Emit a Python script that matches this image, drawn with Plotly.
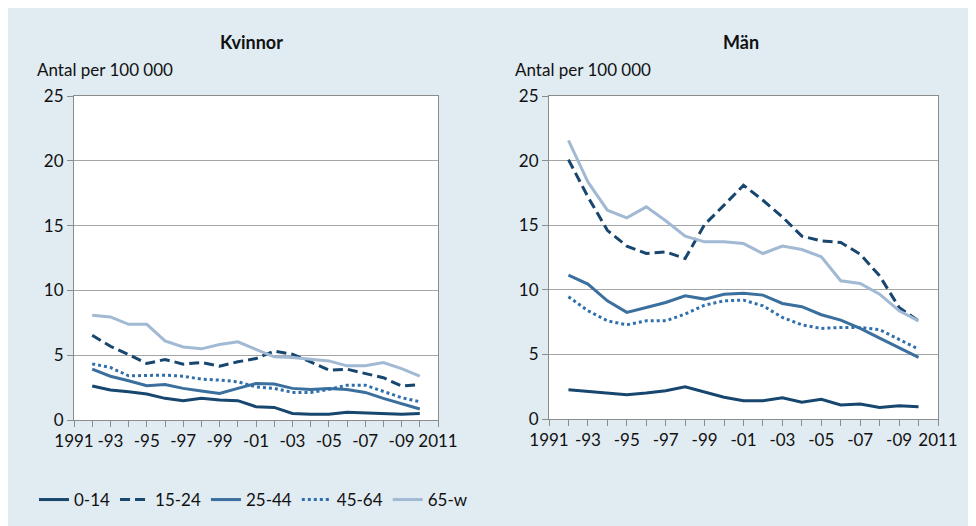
import plotly.graph_objects as go

years = list(range(1992, 2011))
series_names = ["0-14", "15-24", "25-44", "45-64", "65-w"]

kvinnor_0_14 = [2.62, 2.31, 2.18, 2.0, 1.67, 1.49, 1.67, 1.54, 1.49, 1.03, 0.97, 0.51, 0.44, 0.44, 0.59, 0.54, 0.46, 0.44, 0.51]
kvinnor_15_24 = [6.54, 5.69, 5.05, 4.36, 4.67, 4.31, 4.44, 4.15, 4.49, 4.74, 5.31, 5.08, 4.49, 3.85, 3.92, 3.59, 3.26, 2.62, 2.74]
kvinnor_25_44 = [3.92, 3.38, 3.03, 2.64, 2.74, 2.44, 2.23, 2.05, 2.44, 2.82, 2.77, 2.44, 2.36, 2.44, 2.36, 2.13, 1.67, 1.23, 0.85]
kvinnor_45_64 = [4.33, 4.05, 3.41, 3.46, 3.46, 3.38, 3.15, 3.08, 2.95, 2.56, 2.44, 2.13, 2.13, 2.36, 2.69, 2.69, 2.18, 1.72, 1.41]
kvinnor_65_w = [8.08, 7.95, 7.38, 7.38, 6.10, 5.64, 5.49, 5.82, 6.03, 5.44, 4.87, 4.82, 4.67, 4.56, 4.18, 4.18, 4.44, 3.97, 3.38]

man_0_14 = [2.27, 2.14, 1.98, 1.88, 2.01, 2.19, 2.50, 2.06, 1.68, 1.42, 1.42, 1.65, 1.29, 1.52, 1.08, 1.16, 0.90, 1.03, 0.95]
man_15_24 = [20.08, 17.2, 14.6, 13.38, 12.81, 12.94, 12.42, 15.05, 16.55, 18.09, 16.93, 15.64, 14.15, 13.79, 13.66, 12.76, 11.08, 8.63, 7.6]
man_25_44 = [11.13, 10.44, 9.15, 8.25, 8.63, 9.02, 9.54, 9.28, 9.66, 9.74, 9.59, 8.94, 8.69, 8.07, 7.65, 7.01, 6.26, 5.49, 4.77]
man_45_64 = [9.46, 8.38, 7.6, 7.29, 7.6, 7.6, 8.12, 8.81, 9.15, 9.2, 8.76, 7.86, 7.29, 7.01, 7.09, 7.09, 6.91, 6.19, 5.41]
man_65_w = [21.57, 18.35, 16.16, 15.57, 16.42, 15.34, 14.15, 13.71, 13.71, 13.58, 12.81, 13.38, 13.12, 12.55, 10.7, 10.49, 9.66, 8.38, 7.6]

tick_years = list(range(1991, 2012))
tick_labels = ["1991" if y == 1991 else "2011" if y == 2011 else ("-" + str(y)[2:] if y % 2 == 1 else "") for y in tick_years]

panel_titles = ["Kvinnor", "Män"]
y_title = "Antal per 100 000"

colors = ["#17466f", "#17466f", "#3b6f9d", "#2f6fab", "#a2b9d4"]
dashes = ["solid", "10px,5px", "solid", "3px,3px", "solid"]

# page body has an 8px margin: figure occupies page pixels 8..976 x 8..526
OFF = 8
W, H = 976 - OFF, 526 - OFF
BG = "#e0ebf2"
FONT = "Lato"

def px_x(v):
    return (v - OFF) / W

def px_y(v):
    return 1 - (v - OFF) / H

fig = go.Figure()

kv = [kvinnor_0_14, kvinnor_15_24, kvinnor_25_44, kvinnor_45_64, kvinnor_65_w]
mn = [man_0_14, man_15_24, man_25_44, man_45_64, man_65_w]

for i, name in enumerate(series_names):
    fig.add_trace(go.Scatter(x=years, y=kv[i], mode="lines", name=name,
                             line=dict(color=colors[i], width=3, dash=dashes[i]),
                             xaxis="x", yaxis="y", legendgroup=name, showlegend=True))
for i, name in enumerate(series_names):
    fig.add_trace(go.Scatter(x=years, y=mn[i], mode="lines", name=name,
                             line=dict(color=colors[i], width=3, dash=dashes[i]),
                             xaxis="x2", yaxis="y2", legendgroup=name, showlegend=False))

axis_common_x = dict(range=[1991, 2011], tickvals=tick_years, ticktext=tick_labels,
                     ticks="outside", ticklen=6, tickcolor="#8c8c8c", showline=True,
                     linecolor="#8c8c8c", linewidth=1, mirror=True, showgrid=False,
                     zeroline=False, tickfont=dict(family=FONT, size=17, color="#111"),
                     fixedrange=True, automargin=False)
axis_common_y = dict(range=[0, 25], dtick=5, ticks="outside", ticklen=6,
                     tickcolor="#8c8c8c", showline=True, linecolor="#8c8c8c", linewidth=1,
                     mirror=True, showgrid=True, gridcolor="#a6a6a6", gridwidth=1,
                     zeroline=False, tickfont=dict(family=FONT, size=17, color="#111"),
                     fixedrange=True, automargin=False)

fig.update_layout(
    width=W, height=H,
    margin=dict(l=0, r=0, t=0, b=0, pad=0, autoexpand=False),
    paper_bgcolor=BG,
    plot_bgcolor="white",
    font=dict(family=FONT, size=17, color="#111"),
    xaxis=dict(domain=[px_x(74), px_x(438)], anchor="y", **axis_common_x),
    yaxis=dict(domain=[px_y(420), px_y(96)], anchor="x", **axis_common_y),
    xaxis2=dict(domain=[px_x(549), px_x(938)], anchor="y2", **axis_common_x),
    yaxis2=dict(domain=[px_y(419), px_y(96)], anchor="x2", **axis_common_y),
    legend=dict(orientation="h", x=px_x(34), y=px_y(500), xanchor="left", yanchor="middle",
                font=dict(family=FONT, size=17, color="#111"), bgcolor="rgba(0,0,0,0)",
                itemwidth=30, tracegroupgap=0),
    annotations=[
        dict(text="<b>" + panel_titles[0] + "</b>", xref="paper", yref="paper",
             x=px_x(251), y=px_y(42), showarrow=False, xanchor="center", yanchor="middle",
             font=dict(family=FONT, size=18, color="#111")),
        dict(text="<b>" + panel_titles[1] + "</b>", xref="paper", yref="paper",
             x=px_x(741), y=px_y(42), showarrow=False, xanchor="center", yanchor="middle",
             font=dict(family=FONT, size=18, color="#111")),
        dict(text=y_title, xref="paper", yref="paper", x=px_x(35), y=px_y(70),
             showarrow=False, xanchor="left", yanchor="middle",
             font=dict(family=FONT, size=17, color="#111")),
        dict(text=y_title, xref="paper", yref="paper", x=px_x(513), y=px_y(70),
             showarrow=False, xanchor="left", yanchor="middle",
             font=dict(family=FONT, size=17, color="#111")),
    ],
)

fig.write_html("out.html")
